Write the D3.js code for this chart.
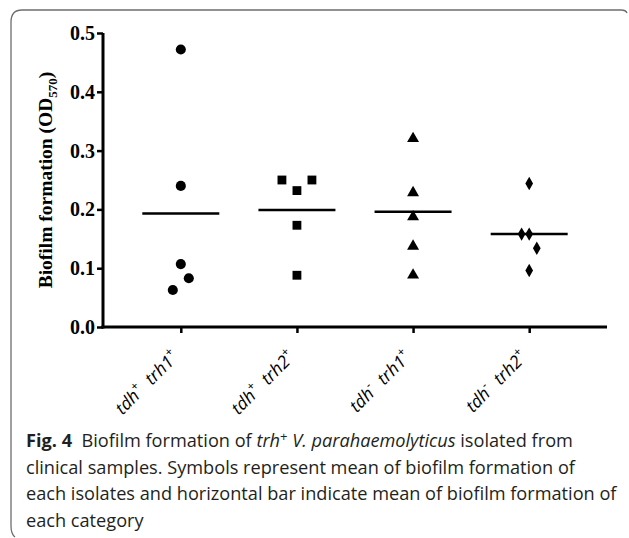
<!DOCTYPE html>
<html><head><meta charset="utf-8">
<script src="https://cdn.jsdelivr.net/npm/d3@7"></script>
<style>body{margin:0;background:#fff}svg{display:block}</style>
</head><body>
<script>
const categories = ["c1","c2","c3","c4"];
const catLabels = [
  {a:"tdh", sa:"+", b:"trh1", sb:"+"},
  {a:"tdh", sa:"+", b:"trh2", sb:"+"},
  {a:"tdh", sa:"-", b:"trh1", sb:"+"},
  {a:"tdh", sa:"-", b:"trh2", sb:"+"}
];
const symbols = ["circle","square","triangle","diamond"];
// values per category and the scatter slot (-1 left, 0 centre, 1 right)
const values1 = [0.472, 0.240, 0.107, 0.083, 0.063];
const slots1  = [0, 0, 0, 1, -1];
const values2 = [0.250, 0.232, 0.250, 0.173, 0.088];
const slots2  = [-1, 0, 1, 0, 0];
const values3 = [0.322, 0.230, 0.189, 0.139, 0.090];
const slots3  = [0, 0, 0, 0, 0];
const values4 = [0.244, 0.158, 0.158, 0.134, 0.096];
const slots4  = [0, -1, 0, 1, 0];
const means = [0.193, 0.199, 0.196, 0.158];
const yTicks = [0.0, 0.1, 0.2, 0.3, 0.4, 0.5];

const W = 629, H = 538;
const svg = d3.select("body").append("svg").attr("width", W).attr("height", H);

// frame
svg.append("path")
  .attr("d", "M627,13 Q626,10 621,10 L22,10 Q11,10 11,22 L11,526 Q11,534 15,537")
  .attr("fill","none").attr("stroke","#6e6e6e").attr("stroke-width",1.3);

const x = d3.scalePoint().domain(categories).range([103, 607]).padding(0.67);
const y = d3.scaleLinear().domain([0, 0.5]).range([327, 33]);

// y axis
const yAxis = svg.append("g").attr("transform","translate(103,0)")
  .call(d3.axisLeft(y).tickValues(yTicks).tickFormat(d3.format(".1f")).tickSizeOuter(0).tickSize(6));
yAxis.select(".domain").attr("stroke-width",3).attr("d", `M0,${y(0)+1.5}V${y(0.5)}`);
yAxis.selectAll(".tick line").attr("stroke-width",2.5);
yAxis.selectAll(".tick text").attr("font-family","Liberation Serif, Times New Roman, serif")
  .attr("font-weight","bold").attr("font-size",20).attr("fill","#000").attr("x",-8);

// x axis
const xAxis = svg.append("g").attr("transform",`translate(0,${y(0)})`)
  .call(d3.axisBottom(x).tickSizeOuter(0).tickSize(6).tickFormat(""));
xAxis.select(".domain").attr("stroke-width",3).attr("d","M101.5,0H607");
xAxis.selectAll(".tick line").attr("stroke-width",2.5);

// x labels rotated
categories.forEach((c,i) => {
  const L = catLabels[i];
  const t = svg.append("text")
    .attr("transform", `translate(${x(c)-1},${y(0)+31}) rotate(-45)`)
    .attr("text-anchor","end")
    .attr("font-family","Open Sans, Noto Sans, sans-serif")
    .attr("font-style","italic").attr("font-size",17.5).attr("fill","#000");
  t.append("tspan").text(L.a);
  t.append("tspan").attr("dy",-8).attr("font-size",12).attr("font-style","normal").text(L.sa);
  t.append("tspan").attr("dy",8).text("  " + L.b).attr("xml:space","preserve");
  t.append("tspan").attr("dy",-8).attr("font-size",12).attr("font-style","normal").text(L.sb);
});

// y label
const yl = svg.append("text")
  .attr("transform","translate(52,180) rotate(-90)")
  .attr("text-anchor","middle")
  .attr("font-family","Liberation Serif, Times New Roman, serif")
  .attr("font-weight","bold").attr("font-size",19.5).attr("fill","#000");
yl.append("tspan").text("Biofilm formation (OD");
yl.append("tspan").attr("dy",5).attr("font-size",13).text("570");
yl.append("tspan").attr("dy",-5).text(")");

// points
const symMap = {circle:d3.symbolCircle, square:d3.symbolSquare, triangle:d3.symbolTriangle, diamond:d3.symbolDiamond};
const symSize = {circle:80, square:78, triangle:62, diamond:52};
const allVals = [values1, values2, values3, values4];
const allSlots = [slots1, slots2, slots3, slots4];
const slotPx = {circle:8, square:15, triangle:8, diamond:7.6};
categories.forEach((c,i) => {
  const s = symbols[i];
  const g = d3.symbol().type(symMap[s]).size(symSize[s]);
  allVals[i].forEach((v,j) => {
    svg.append("path").attr("d", g())
      .attr("transform", `translate(${x(c) + allSlots[i][j]*slotPx[s]},${y(v) + (s==="triangle"?1:0)})`)
      .attr("fill","#000");
  });
  svg.append("line")
    .attr("x1", x(c)-38.5).attr("x2", x(c)+38.5)
    .attr("y1", y(means[i])).attr("y2", y(means[i]))
    .attr("stroke","#000").attr("stroke-width",2.5);
});

// caption
const capLines = [
  [{t:"Fig. 4",b:1},{t:"  Biofilm formation of "},{t:"trh",i:1},{t:"+",sup:1},{t:" ",down:1},{t:"V. parahaemolyticus",i:1},{t:" isolated from"}],
  [{t:"clinical samples. Symbols represent mean of biofilm formation of"}],
  [{t:"each isolates and horizontal bar indicate mean of biofilm formation of"}],
  [{t:"each category"}]
];
const capTexts = capLines.map((line,k) => {
  const t = svg.append("text").attr("x",26).attr("y",447 + k*26.6)
    .attr("font-family","Open Sans, Noto Sans, sans-serif").attr("font-size",16).attr("fill","#231f20");
  line.forEach(p => {
    const ts = t.append("tspan").text(p.t).attr("xml:space","preserve");
    if (p.b) ts.attr("font-weight","bold");
    if (p.i) ts.attr("font-style","italic");
    if (p.sup) ts.attr("dy",-6).attr("font-size",12);
    if (p.down) ts.attr("dy",6);
  });
  return t;
});
// fit the longest line (line 3) to its width in the reference, same size for all
const w3 = capTexts[2].node().getComputedTextLength();
const fs = 16 * 591 / w3;
capTexts.forEach(t => {
  t.attr("font-size", fs);
  t.selectAll("tspan").filter(function(){return this.getAttribute("font-size")==="12";}).attr("font-size", fs*0.72);
});
</script>
</body></html>
